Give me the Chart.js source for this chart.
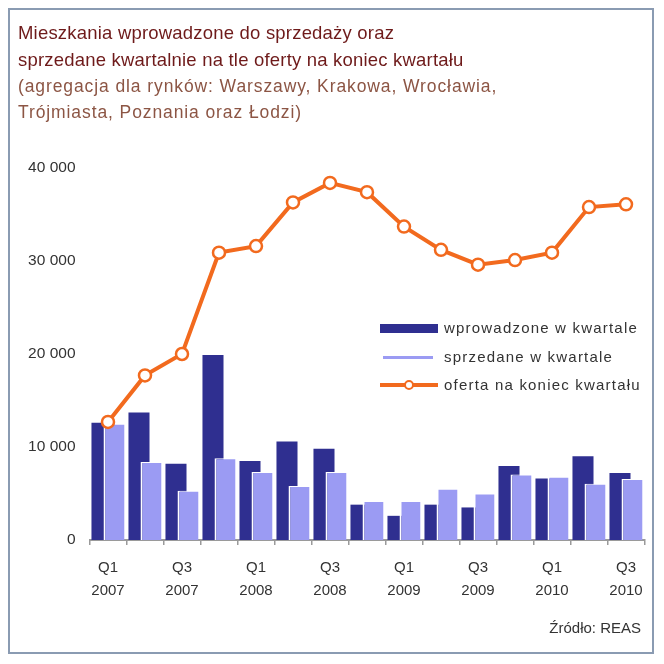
<!DOCTYPE html>
<html>
<head>
<meta charset="utf-8">
<script src="https://cdn.jsdelivr.net/npm/chart.js@4/dist/chart.umd.min.js"></script>
<style>
  body { margin: 0; background: #fff; font-family: "Liberation Sans", Arial, sans-serif; }
  #wrap { position: relative; width: 664px; height: 664px; }
  #frame { position: absolute; left: 8px; top: 8px; width: 646px; height: 646px; border: 2px solid #8a9bb2; box-sizing: border-box; }
  #chart { position: absolute; left: 0; top: 0; }
  .title { position: absolute; left: 18px; top: 19px; font-size: 18.5px; line-height: 27px; color: #6e1a1a; letter-spacing: 0.2px; }
  .subtitle { position: absolute; left: 18px; top: 73px; font-size: 17.5px; line-height: 26px; color: #8c5544; letter-spacing: 0.9px; }
  #legend { position: absolute; left: 380px; top: 314px; font-size: 15px; color: #333; letter-spacing: 1.2px; }
  #legend .item { position: relative; height: 28.5px; line-height: 28.5px; padding-left: 64px; white-space: nowrap; }
  #legend .sym { position: absolute; left: 0; }
  #source { position: absolute; right: 23px; top: 619px; font-size: 15px; color: #333; }
</style>
</head>
<body>
<div id="wrap">
  <div id="frame"></div>
  <canvas id="chart" width="664" height="664"></canvas>
  <div class="title">Mieszkania wprowadzone do sprzedaży oraz<br>sprzedane kwartalnie na tle oferty na koniec kwartału</div>
  <div class="subtitle">(agregacja dla rynków: Warszawy, Krakowa, Wrocławia,<br>Trójmiasta, Poznania oraz Łodzi)</div>
  <div id="legend"></div>
  <div id="source">Źródło: REAS</div>
</div>
<script>
// dane
const quarters = ['Q1','Q2','Q3','Q4','Q1','Q2','Q3','Q4','Q1','Q2','Q3','Q4','Q1','Q2','Q3'];
const years    = ['2007','2007','2007','2007','2008','2008','2008','2008','2009','2009','2009','2009','2010','2010','2010'];
const wprowadzone = [12600, 13700, 8200, 19900, 8500, 10600, 9800, 3800, 2600, 3800, 3500, 7950, 6600, 9000, 7200];
const sprzedane   = [12500, 8400, 5300, 8800, 7300, 5800, 7300, 4200, 4200, 5500, 5000, 7050, 6800, 6050, 6550];
const oferta      = [12700, 17700, 20000, 30900, 31600, 36300, 38400, 37400, 33700, 31200, 29600, 30100, 30900, 35800, 36100];
const yTicks = [0, 10000, 20000, 30000, 40000];

const labels = quarters.map(function (q, i) { return [q, years[i]]; });

const DARK = '#2f2f90';
const LIGHT = '#9b9bf3';
const ORANGE = '#f26a1e';

// ciemne słupki rysujemy najpierw, żeby jasne je przykrywały
const darkFirst = {
    id: 'darkFirst',
    beforeDatasetsDraw: function (chart) {
        chart.getDatasetMeta(0).controller.draw();
    },
    beforeDatasetDraw: function (chart, args) {
        if (args.index === 0) return false;
    }
};

new Chart(document.getElementById('chart'), {
    type: 'bar',
    data: {
        labels: labels,
        datasets: [
            {
                label: 'wprowadzone w kwartale',
                data: wprowadzone,
                backgroundColor: DARK,
                categoryPercentage: 0.65,
                barPercentage: 1.75,
                order: 1
            },
            {
                label: 'sprzedane w kwartale',
                data: sprzedane,
                backgroundColor: LIGHT,
                borderColor: '#fff',
                borderWidth: { left: 2, top: 1, right: 0, bottom: 0 },
                borderSkipped: false,
                categoryPercentage: 0.65,
                barPercentage: 1.75,
                order: 1
            },
            {
                type: 'line',
                label: 'oferta na koniec kwartału',
                data: oferta,
                borderColor: ORANGE,
                borderWidth: 4,
                pointRadius: 6,
                pointBorderWidth: 2.5,
                pointBackgroundColor: '#fff',
                pointBorderColor: ORANGE,
                tension: 0,
                order: 0
            }
        ]
    },
    options: {
        responsive: false,
        animation: false,
        layout: { padding: { top: 168, left: 0, right: 19.5, bottom: 60 } },
        plugins: {
            legend: { display: false },
            tooltip: { enabled: false }
        },
        scales: {
            x: {
                offset: true,
                grid: { offset: true, drawOnChartArea: false, drawTicks: true, tickLength: 5, color: '#9a9a9a', lineWidth: 1.5 },
                border: { display: true, color: '#9a9a9a', width: 2 },
                ticks: {
                    autoSkip: false,
                    maxRotation: 0,
                    padding: 12,
                    color: '#333',
                    font: { family: '"Liberation Sans", Arial, sans-serif', size: 15, lineHeight: 1.5 },
                    callback: function (v, i) { return i % 2 === 0 ? this.getLabelForValue(v) : ''; }
                },
                afterFit: function (scale) { scale.height = 64; }
            },
            y: {
                min: 0,
                max: 40000,
                grid: { display: false, drawTicks: false },
                border: { display: false },
                afterBuildTicks: function (scale) { scale.ticks = yTicks.map(function (v) { return { value: v }; }); },
                ticks: {
                    padding: 14,
                    color: '#333',
                    font: { family: '"Liberation Sans", Arial, sans-serif', size: 15.5 },
                    callback: function (v) { return v === 0 ? '0' : String(v).replace(/\B(?=(\d{3})+(?!\d))/g, ' '); }
                },
                afterFit: function (scale) { scale.width = 89.5; }
            }
        }
    },
    plugins: [darkFirst]
});

// legenda
const legend = document.getElementById('legend');
[
    { text: 'wprowadzone w kwartale', sym: '<div class="sym" style="top:10px;width:58px;height:9px;background:' + DARK + '"></div>' },
    { text: 'sprzedane w kwartale', sym: '<div class="sym" style="top:13px;left:3px;width:50px;height:3px;background:' + LIGHT + '"></div>' },
    { text: 'oferta na koniec kwartału', sym: '<div class="sym" style="top:12px;width:58px;height:4px;background:' + ORANGE + '"></div>' +
        '<div class="sym" style="top:9px;left:24px;width:6px;height:6px;border:2px solid ' + ORANGE + ';border-radius:50%;background:#fff"></div>' }
].forEach(function (it) {
    const d = document.createElement('div');
    d.className = 'item';
    d.innerHTML = it.sym + it.text;
    legend.appendChild(d);
});
</script>
</body>
</html>
